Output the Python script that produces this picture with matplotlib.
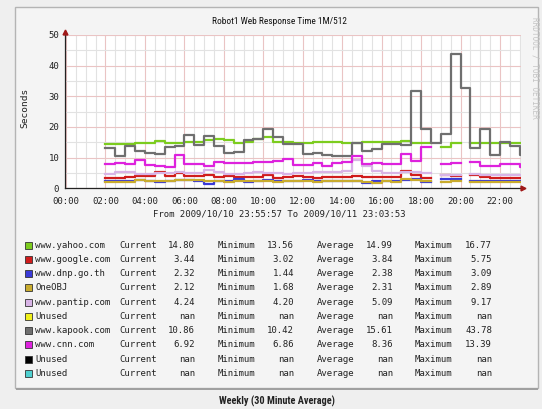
import numpy as np
import matplotlib
matplotlib.use("Agg")
import matplotlib.pyplot as plt
from matplotlib.patches import Rectangle
from matplotlib import font_manager

nan = np.nan

# ---------------- data ----------------
start_hour = 2.0          # first 30-minute sample (02:00)
step_hours = 0.5
end_hour = 23.065         # 23:03:53
view_start = -0.067       # 23:55:57 previous day

yahoo = [14.3, 14.4, 14.6, 14.7, 14.8, 15.4, 14.8, 14.8, 15.2, 15.2, 15.6, 16.0, 15.9, 14.8,
         15.2, 16.2, 16.77, 15.2, 15.0, 14.9, 14.9, 15.1, 15.1, 15.0, 14.9, 14.9, 15.0, 15.1,
         15.0, 15.0, 15.3, 14.7, 14.8, nan, 13.56, 14.7, nan, 14.9, 14.8, 14.8, 14.9, 14.8, 14.80]
google = [3.3, 3.3, 3.8, 4.0, 3.9, 5.2, 4.1, 5.0, 4.1, 4.0, 4.5, 3.8, 3.9, 3.7,
          3.8, 3.8, 4.2, 3.5, 3.6, 3.9, 3.7, 3.4, 3.6, 3.6, 3.7, 3.9, 3.8, 3.6,
          3.7, 3.6, 5.75, 4.2, 3.3, nan, 4.2, 3.9, nan, 4.3, 3.8, 3.5, 3.5, 3.5, 3.44]
dnp = [2.3, 2.3, 2.5, 2.6, 2.5, 1.9, 2.4, 2.8, 2.6, 2.5, 1.44, 2.4, 2.4, 2.9,
       2.0, 2.4, 2.6, 2.5, 2.4, 2.5, 2.6, 2.5, 2.4, 2.5, 2.4, 2.5, 1.8, 2.3,
       2.4, 2.4, 2.6, 3.09, 2.2, nan, 2.9, 3.0, nan, 2.4, 2.3, 2.4, 2.3, 2.3, 2.32]
oneobj = [2.0, 2.1, 2.2, 2.6, 2.5, 2.4, 2.3, 2.6, 2.8, 2.6, 2.4, 2.3, 2.2, 2.3,
          2.4, 2.5, 2.3, 2.2, 2.4, 2.3, 2.3, 2.2, 2.4, 2.3, 2.3, 2.4, 2.2, 1.68,
          2.3, 2.2, 2.89, 2.6, 2.3, nan, 2.2, 2.3, nan, 2.2, 2.1, 2.2, 2.1, 2.1, 2.12]
pantip = [4.6, 5.2, 5.3, 4.6, 4.8, 4.9, 5.0, 5.2, 4.9, 4.9, 6.0, 5.2, 4.7, 4.6,
          5.0, 5.3, 5.0, 5.0, 4.8, 4.9, 5.1, 5.4, 5.2, 5.2, 5.6, 9.17, 7.2, 5.8,
          5.1, 5.0, 5.4, 5.2, 5.0, nan, 4.4, 4.5, nan, 4.8, 4.5, 4.3, 4.3, 4.2, 4.24]
kapook = [13.1, 10.6, 13.8, 12.2, 11.5, 11.2, 13.5, 13.8, 17.3, 14.2, 17.0, 13.8, 11.5, 12.0,
          15.8, 16.0, 19.5, 16.8, 14.5, 14.5, 11.2, 11.6, 10.9, 10.42, 10.5, 14.9, 12.3, 12.7,
          14.5, 14.5, 14.2, 31.8, 19.2, 14.9, 17.6, 43.78, 32.6, 13.0, 19.2, 10.9, 15.2, 13.9, 10.86]
cnn = [7.8, 8.2, 7.8, 9.2, 7.6, 7.3, 6.9, 10.9, 7.8, 7.8, 7.4, 8.5, 8.2, 8.2,
       8.4, 8.5, 8.7, 8.9, 9.5, 7.6, 7.6, 8.4, 7.3, 8.2, 8.7, 10.5, 8.0, 8.2,
       7.8, 7.8, 11.2, 8.9, 13.39, nan, 7.9, 8.1, nan, 8.5, 7.4, 7.3, 7.9, 7.8, 6.92]

legend_names = ['www.yahoo.com', 'www.google.com', 'www.dnp.go.th', 'OneOBJ', 'www.pantip.com',
                'Unused', 'www.kapook.com', 'www.cnn.com', 'Unused', 'Unused']
legend_colors = ['#7ccc1e', '#d01c1c', '#3a3ad8', '#c9ac2e', '#d8b4e6',
                 '#f0f01a', '#6f6f6f', '#dd22dd', '#000000', '#4fd0d0']
current = [14.80, 3.44, 2.32, 2.12, 4.24, nan, 10.86, 6.92, nan, nan]
minimum = [13.56, 3.02, 1.44, 1.68, 4.20, nan, 10.42, 6.86, nan, nan]
average = [14.99, 3.84, 2.38, 2.31, 5.09, nan, 15.61, 8.36, nan, nan]
maximum = [16.77, 5.75, 3.09, 2.89, 9.17, nan, 43.78, 13.39, nan, nan]

series = [(yahoo, 0), (google, 1), (dnp, 2), (oneobj, 3), (pantip, 4), (kapook, 6), (cnn, 7)]

x_ticks = list(range(0, 24, 2))
x_labels = ['%02d:00' % h for h in x_ticks]
y_ticks = [0, 10, 20, 30, 40, 50]

title = 'Robot1 Web Response Time 1M/512'
subtitle = 'From 2009/10/10 23:55:57 To 2009/10/11 23:03:53'
caption = 'Weekly (30 Minute Average)'
watermark = 'RRDTOOL / TOBI OETIKER'

# ---------------- figure ----------------
W, H = 542, 409
fig = plt.figure(figsize=(W / 100, H / 100), dpi=100)
fig.patch.set_facecolor('#efefef')

def fx(px):
    return px / W

def fy(py):
    return 1 - py / H

# choose a narrow sans font if one is installed
ttf = font_manager.fontManager.ttflist
names_avail = {f.name for f in ttf}
narrow_kw = dict(family='Liberation Sans')
for fam in ['Liberation Sans Narrow', 'Roboto Condensed', 'Open Sans Condensed',
            'Noto Sans Condensed', 'DejaVu Sans Condensed']:
    if fam in names_avail:
        narrow_kw = dict(family=fam)
        break
else:
    for f in ttf:
        if f.name in ('DejaVu Sans', 'Noto Sans', 'Open Sans', 'Roboto') and \
                str(f.stretch) in ('condensed', 'semi-condensed', '75', '87', '62'):
            narrow_kw = dict(family=f.name, fontstretch=f.stretch)
            break
mono = 'DejaVu Sans Mono'

# panel
fig.patches.append(Rectangle((fx(15), fy(388)), fx(538) - fx(15), fy(7) - fy(388),
                             transform=fig.transFigure, facecolor='#f4f4f4',
                             edgecolor='#b4b4b4', lw=1.0, zorder=-10))
fig.patches.append(Rectangle((fx(16), fy(389.5)), fx(538) - fx(16), 1.2 / H,
                             transform=fig.transFigure, facecolor='#a0a0a0',
                             edgecolor='none', zorder=-10))

ax_l, ax_r, ax_b, ax_t = 64.7, 521.0, 188.3, 35.0
ax = fig.add_axes([fx(ax_l), fy(ax_b), fx(ax_r) - fx(ax_l), fy(ax_t) - fy(ax_b)])
ax.set_zorder(1)
ax.set_facecolor('white')
ax.set_xlim(view_start, end_hour)
ax.set_ylim(0, 50)

ax.set_xticks(x_ticks)
ax.set_xticklabels(x_labels)
ax.set_xticks(np.arange(0, 23.5, 0.5), minor=True)
ax.set_yticks(y_ticks)
ax.set_yticks(range(0, 51, 5), minor=True)
ax.grid(which='minor', color='#e2e2e2', lw=0.8)
ax.grid(which='major', color='#eac4c4', lw=0.8)
ax.set_axisbelow(True)
for sp in ['top', 'right']:
    ax.spines[sp].set_visible(False)
for sp in ['left', 'bottom']:
    ax.spines[sp].set_color('#222222')
    ax.spines[sp].set_linewidth(0.9)
ax.tick_params(which='both', length=0)
ax.tick_params(axis='x', pad=6, labelsize=6.5, labelcolor='#222222')
ax.tick_params(axis='y', pad=4, labelsize=6.5, labelcolor='#222222')
for lab in ax.get_xticklabels() + ax.get_yticklabels():
    lab.set_family(mono)

# arrows
ax.plot([1.004], [0], transform=ax.transAxes, marker='>', ms=3.5, color='#a01818',
        clip_on=False, zorder=5)
ax.plot([0], [1.02], transform=ax.transAxes, marker='^', ms=3.5, color='#a01818',
        clip_on=False, zorder=5)
ax.plot([0, 0], [1.0, 1.02], transform=ax.transAxes, color='#222222', lw=0.9, clip_on=False)
ax.plot([1.0, 1.004], [0, 0], transform=ax.transAxes, color='#222222', lw=0.9, clip_on=False)

t_steps = start_hour + step_hours * np.arange(len(kapook))
xs = np.append(t_steps, end_hour)
for vals, ci in series:
    ys = np.append(np.array(vals, dtype=float), vals[-1])
    ax.plot(xs, ys, drawstyle='steps-post', color=legend_colors[ci], lw=1.6, zorder=3)

renderer = fig.canvas.get_renderer()

def fit_text(xc, yc, s, target_w, size, **kw):
    t = fig.text(fx(xc), fy(yc), s, ha='center', va='center', fontsize=size, **kw)
    w = t.get_window_extent(renderer=renderer).width
    t.set_fontsize(size * target_w / w)
    return t

fit_text(279, 21, title, 136, 8, color='#111111', **narrow_kw)
fit_text(279, 214, subtitle, 248, 6.5, family=mono, color='#222222')
fit_text(277, 401.5, caption, 117, 6, weight='bold', color='#222222', **narrow_kw)
fig.text(fx(25), fy(108), 'Seconds', rotation=90, ha='center', va='center',
         fontsize=6.8, family=mono, color='#222222')
fig.text(fx(535), fy(68), watermark, rotation=270, ha='center', va='center',
         fontsize=5.6, family=mono, color='#c4c4c4')

# legend
def fmt(v):
    return 'nan' if np.isnan(v) else '%.2f' % v

row0, drow = 245.0, 14.27
fs = 6.5
for i, name in enumerate(legend_names):
    yc = row0 + i * drow
    fig.patches.append(Rectangle((fx(25), fy(yc + 3.5)), fx(7), 7 / H,
                                 transform=fig.transFigure, facecolor=legend_colors[i],
                                 edgecolor='#333333', lw=0.6))
    kw = dict(va='center', fontsize=fs, family=mono, color='#222222')
    fig.text(fx(35), fy(yc), name, ha='left', **kw)
    fig.text(fx(119), fy(yc), 'Current', ha='left', **kw)
    fig.text(fx(195), fy(yc), fmt(current[i]), ha='right', **kw)
    fig.text(fx(218), fy(yc), 'Minimum', ha='left', **kw)
    fig.text(fx(294), fy(yc), fmt(minimum[i]), ha='right', **kw)
    fig.text(fx(317), fy(yc), 'Average', ha='left', **kw)
    fig.text(fx(393), fy(yc), fmt(average[i]), ha='right', **kw)
    fig.text(fx(415), fy(yc), 'Maximum', ha='left', **kw)
    fig.text(fx(492), fy(yc), fmt(maximum[i]), ha='right', **kw)

fig.savefig('out.png', dpi=100, facecolor=fig.get_facecolor())
